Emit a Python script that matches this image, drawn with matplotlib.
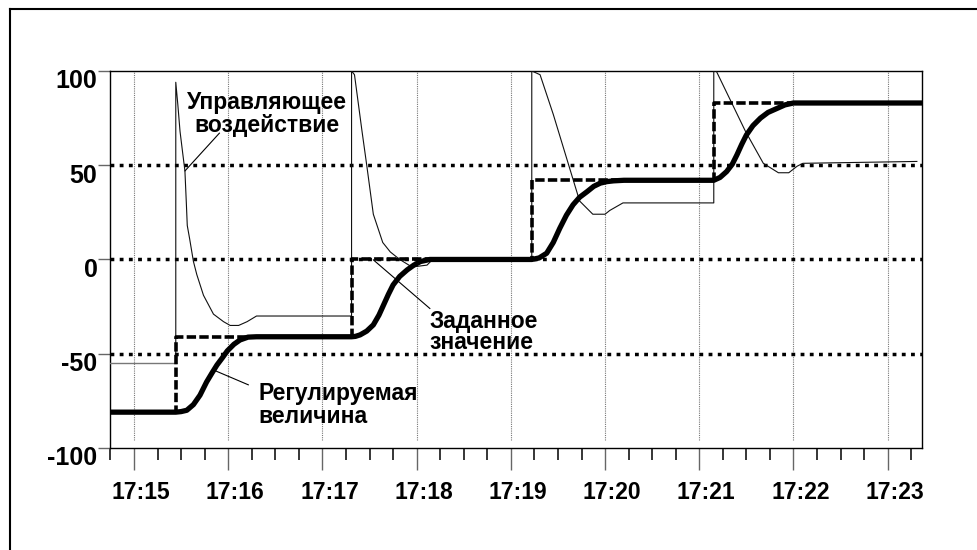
import matplotlib
matplotlib.use('Agg')
import matplotlib.pyplot as plt
from matplotlib.lines import Line2D
from matplotlib.transforms import ScaledTranslation

plt.rcParams['font.family'] = ['Liberation Sans', 'DejaVu Sans']
plt.rcParams['font.weight'] = 'bold'

# time in minutes after 17:15
tick_pos = [0, 1, 2, 3, 4, 5, 6, 7, 8]
tick_labels = ['17:15', '17:16', '17:17', '17:18', '17:19', '17:20', '17:21', '17:22', '17:23']
y_ticks = [-100, -50, 0, 50, 100]

# setpoint (Заданное значение)
sp_t = [-0.25, 0.443, 2.309, 4.222, 6.154, 8.37]
sp_v = [-81, -41, 0, 42, 83, 83]

# process variable (Регулируемая величина)
pv_t = [-0.25, 0.443, 0.50, 0.56, 0.63, 0.70, 0.77, 0.83, 0.88, 0.94, 0.99, 1.06, 1.125, 1.21, 1.30,
        2.309, 2.35, 2.40, 2.47, 2.54, 2.60, 2.65, 2.70, 2.75, 2.82, 2.90, 2.97, 3.04, 3.14, 3.25,
        4.222, 4.30, 4.38, 4.45, 4.52, 4.59, 4.66, 4.73, 4.81, 4.88, 4.95, 5.02, 5.09, 5.20,
        6.154, 6.22, 6.29, 6.35, 6.40, 6.45, 6.50, 6.57, 6.65, 6.73, 6.82, 6.91, 7.00, 8.37]
pv_v = [-81, -81, -80.7, -80, -77, -72, -65, -60, -56, -52, -48.5, -45, -42.7, -41.2, -41,
        -41, -40.8, -40, -38, -34.7, -29.5, -24, -18.5, -13.5, -9, -5.5, -3, -1.1, 0, 0,
        0, 0.8, 3.3, 9, 16.6, 23.5, 29, 33, 36, 38.8, 40.5, 41.3, 41.7, 42,
        42, 43.5, 46.6, 50.5, 55.5, 61, 66, 71, 75, 78, 80, 82, 83, 83]

# control output (Управляющее воздействие)
u0_t = [-0.25, 0.443]
u0_v = [-55, -55]
u_t = [0.443, 0.443, 0.465, 0.488, 0.515, 0.54, 0.555, 0.565, 0.59, 0.63, 0.666, 0.737, 0.843, 0.95, 1.02,
       1.11, 1.20, 1.30,
       2.309, 2.309, 2.34, 2.42, 2.47, 2.54, 2.64, 2.72, 2.82, 2.95, 3.11, 3.17,
       4.222, 4.222, 4.31, 4.45, 4.59, 4.73, 4.87, 5.00, 5.05, 5.19,
       6.154, 6.154, 6.18, 6.49, 6.68, 6.84, 6.95, 7.04, 7.10, 8.31]
u_v = [-55, 94, 82, 68, 57, 47, 30, 18, 11, -1, -8, -19, -29, -33, -35,
       -35, -33, -30,
       -30, 100, 98, 68, 50, 24, 9, 4, 0, -4, -3, 0,
       0, 100, 98, 77, 54, 31, 24, 24, 26, 30,
       30, 100, 100, 68, 51, 46, 46, 49.5, 51, 52]

fig = plt.figure(figsize=(9.78, 5.5), dpi=100)
ax = fig.add_axes([0.1125, 0.1855, 0.8303, 0.6855])

# outer frame
fig.add_artist(Line2D([10/978, 1], [1-9/550, 1-9/550], color='black', lw=1.5, transform=fig.transFigure))
fig.add_artist(Line2D([10/978, 10/978], [0, 1-9/550], color='black', lw=1.5, transform=fig.transFigure))

# grid
for t in tick_pos:
    ax.axvline(t, ymin=0.02, ymax=1, color='#777777', lw=0.8, ls=(0, (1, 1)), zorder=1)
for y in [-50, 0, 50]:
    ax.axhline(y, color='black', lw=2.5, dashes=(1.1, 1.55), zorder=2)

ax.plot(u0_t, u0_v, color='#777777', lw=1.0, zorder=3)
ax.plot(u_t, u_v, color='#111111', lw=0.8, zorder=3)
ax.step(sp_t, sp_v, where='post', color='black', lw=2.6, dashes=(2.6, 0.9), zorder=4)
ax.plot(pv_t, pv_v, color='black', lw=3.8, solid_joinstyle='round', solid_capstyle='butt', zorder=5)

# annotations
fs = 16.5
ax.text(1.41, 77, 'Управляющее\nвоздействие', ha='center', va='center', fontsize=fs,
        fontweight='bold', linespacing=1.0, zorder=6)
ax.plot([0.906, 0.541], [67.0, 47.0], color='black', lw=0.8, zorder=6)
ax.text(3.14, -38.5, 'Заданное\nзначение', ha='left', va='center', fontsize=fs,
        fontweight='bold', linespacing=0.92, zorder=6)
ax.plot([3.14, 2.54], [-26.0, -0.2], color='black', lw=0.8, zorder=6)
ax.text(1.316, -77, 'Регулируемая\nвеличина', ha='left', va='center', fontsize=fs,
        fontweight='bold', linespacing=1.0, zorder=6)
ax.plot([1.213, 0.842], [-66.5, -58.6], color='black', lw=0.8, zorder=6)

ax.set_xlim(-0.255, 8.365)
ax.set_ylim(-100, 100)
ax.set_xticks(tick_pos)
ax.set_xticklabels(tick_labels)
ax.set_xticks([t / 4 for t in range(-1, 34) if t % 4 != 0], minor=True)
ax.set_yticks(y_ticks)
ax.set_yticklabels([str(v) for v in y_ticks])
ax.tick_params(axis='x', which='major', length=16, width=1.0, color='#666666', pad=8, labelsize=16.5)
ax.tick_params(axis='x', which='minor', length=8.5, width=1.1, color='black')
ax.tick_params(axis='y', which='major', length=9, width=1.0, color='#666666', pad=0, labelsize=18)
for lab in ax.get_xticklabels():
    lab.set_fontweight('bold')
    lab.set_transform(lab.get_transform() + ScaledTranslation(0.07, 0, fig.dpi_scale_trans))
for lab in ax.get_yticklabels():
    lab.set_fontweight('bold')
    lab.set_transform(lab.get_transform() + ScaledTranslation(0, -0.08, fig.dpi_scale_trans))
for s in ax.spines.values():
    s.set_linewidth(1.0)

fig.savefig('out.png', dpi=100)
